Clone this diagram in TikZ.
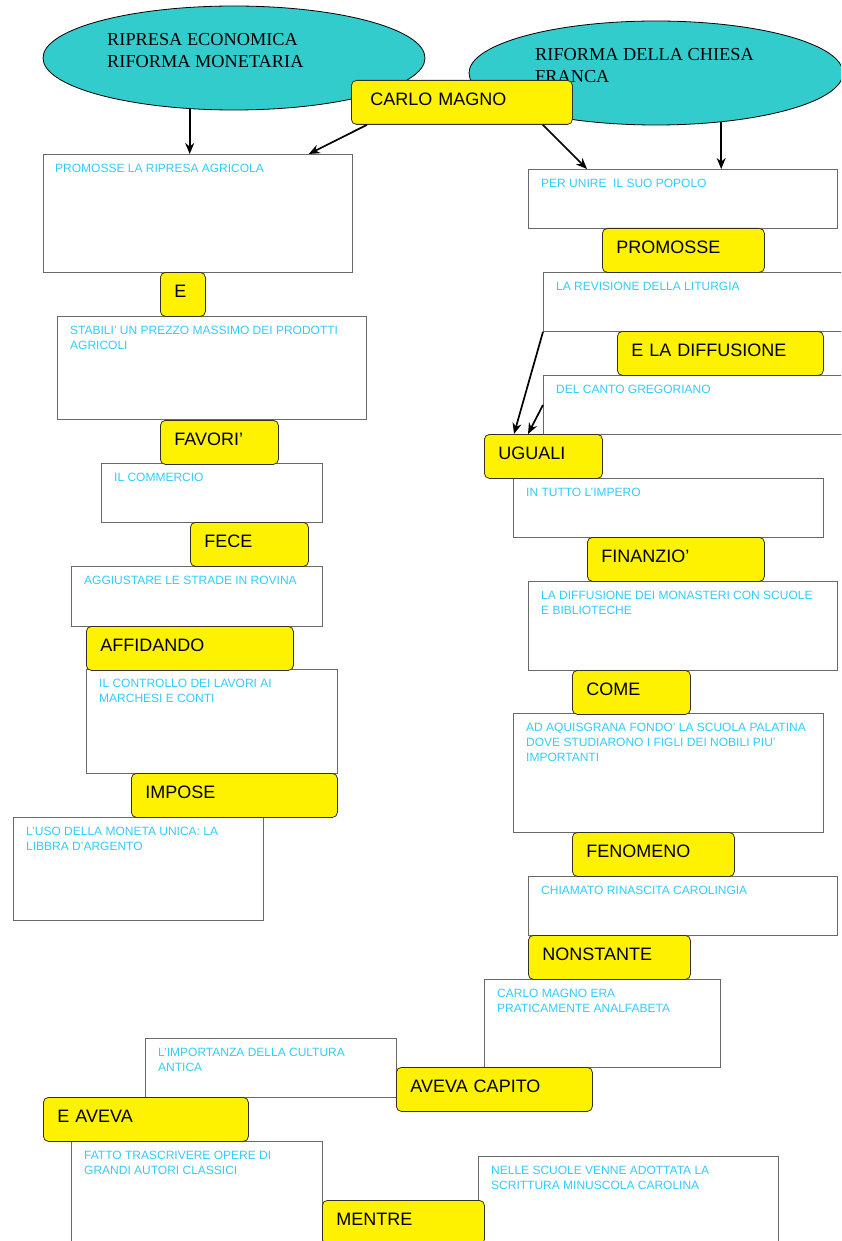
\documentclass[tikz,border=0pt]{standalone}
\usepackage{fontspec}
\setmainfont{Liberation Sans}
\newfontfamily\serifrm{Liberation Serif}
\usepackage{tikz}
\usetikzlibrary{positioning,shapes.geometric,arrows.meta}
\definecolor{ellcyan}{RGB}{51,204,204}
\definecolor{txtcyan}{RGB}{51,204,255}
\definecolor{boxgray}{RGB}{105,105,105}
\definecolor{ydark}{RGB}{50,50,30}
\begin{document}
\begin{tikzpicture}[x=1pt,y=-1pt,
    ell/.style={ellipse,draw=black,fill=ellcyan,line width=0.8pt,inner sep=0pt},
    etext/.style={anchor=north west,inner sep=0pt,align=left,font=\serifrm\fontsize{18.3}{22}\selectfont},
    wbox/.style={draw=boxgray,fill=white,line width=0.8pt,anchor=north west,inner sep=0pt},
    wtext/.style={inner sep=0pt,align=left,text=txtcyan,font=\fontsize{12}{15}\selectfont},
    ybox/.style={draw=ydark,fill=yellow,rounded corners=5pt,line width=0.8pt,anchor=north west,
      minimum height=44pt,inner xsep=14pt,inner ysep=0pt,align=left,
      text height=13pt,text depth=6pt,font=\fontsize{18}{20}\selectfont},
    arr/.style={-{Stealth[length=11pt,width=9pt]},line width=1.7pt}]
     \clip (0,0) rectangle (841,1241);
     % ellissi
     \node[ell,minimum width=382pt,minimum height=104pt] (ripresa) at (234,58) {};
     \node[ell,minimum width=374pt,minimum height=104pt] (chiesa) at (656,73) {};
     \node[etext] (ripresaT) at (107,33) {RIPRESA ECONOMICA\\RIFORMA MONETARIA};
     \node[etext] (chiesaT) at (535,48) {RIFORMA DELLA CHIESA\\FRANCA};
     % colonna sinistra
     \node[wbox,minimum width=309pt,minimum height=118pt] (agricola) at (43,154) {};
     \node[wtext,below right=10pt and 12pt of agricola.north west] (agricolaT) {PROMOSSE LA RIPRESA AGRICOLA};
     \node[wbox,minimum width=309pt,minimum height=103pt] (prezzo) at (57,316) {};
     \node[wtext,below right=10pt and 13pt of prezzo.north west] (prezzoT) {STABILI' UN PREZZO MASSIMO DEI PRODOTTI\\AGRICOLI};
     \node[wbox,minimum width=221pt,minimum height=59pt] (commercio) at (101,463) {};
     \node[wtext,below right=10pt and 13pt of commercio.north west] (commercioT) {IL COMMERCIO};
     \node[wbox,minimum width=251pt,minimum height=60pt] (strade) at (71,566) {};
     \node[wtext,below right=10pt and 13pt of strade.north west] (stradeT) {AGGIUSTARE LE STRADE IN ROVINA};
     \node[wbox,minimum width=251pt,minimum height=104pt] (controllo) at (86,669) {};
     \node[wtext,below right=10pt and 13pt of controllo.north west] (controlloT) {IL CONTROLLO DEI LAVORI AI\\MARCHESI E CONTI};
     \node[wbox,minimum width=250pt,minimum height=103pt] (moneta) at (13,817) {};
     \node[wtext,below right=10pt and 13pt of moneta.north west] (monetaT) {L'USO DELLA MONETA UNICA: LA\\LIBBRA D'ARGENTO};
     % colonna destra
     \node[wbox,minimum width=309pt,minimum height=59pt] (popolo) at (528,169) {};
     \node[wtext,below right=10pt and 13pt of popolo.north west] (popoloT) {PER UNIRE\ \ IL SUO POPOLO};
     \node[wbox,minimum width=320pt,minimum height=59pt] (liturgia) at (543,272) {};
     \node[wtext,below right=10pt and 13pt of liturgia.north west] (liturgiaT) {LA REVISIONE DELLA LITURGIA};
     \node[wbox,minimum width=320pt,minimum height=59pt] (canto) at (543,375) {};
     \node[wtext,below right=10pt and 13pt of canto.north west] (cantoT) {DEL CANTO GREGORIANO};
     \node[wbox,minimum width=310pt,minimum height=59pt] (impero) at (513,478) {};
     \node[wtext,below right=10pt and 13pt of impero.north west] (imperoT) {IN TUTTO L'IMPERO};
     \node[wbox,minimum width=309pt,minimum height=89pt] (monasteri) at (528,581) {};
     \node[wtext,below right=10pt and 13pt of monasteri.north west] (monasteriT) {LA DIFFUSIONE DEI MONASTERI CON SCUOLE\\E BIBLIOTECHE};
     \node[wbox,minimum width=310pt,minimum height=119pt] (palatina) at (513,713) {};
     \node[wtext,below right=10pt and 13pt of palatina.north west] (palatinaT) {AD AQUISGRANA FONDO' LA SCUOLA PALATINA\\DOVE STUDIARONO I FIGLI DEI NOBILI PIU'\\IMPORTANTI};
     \node[wbox,minimum width=309pt,minimum height=59pt] (rinascita) at (528,876) {};
     \node[wtext,below right=10pt and 13pt of rinascita.north west] (rinascitaT) {CHIAMATO RINASCITA CAROLINGIA};
     \node[wbox,minimum width=236pt,minimum height=88pt] (analfabeta) at (484,979) {};
     \node[wtext,below right=10pt and 13pt of analfabeta.north west] (analfabetaT) {CARLO MAGNO ERA\\PRATICAMENTE ANALFABETA};
     \node[wbox,minimum width=251pt,minimum height=59pt] (cultura) at (145,1038) {};
     \node[wtext,below right=10pt and 13pt of cultura.north west] (culturaT) {L'IMPORTANZA DELLA CULTURA\\ANTICA};
     \node[wbox,minimum width=251pt,minimum height=120pt] (opere) at (71,1141) {};
     \node[wtext,below right=10pt and 13pt of opere.north west] (opereT) {FATTO TRASCRIVERE OPERE DI\\GRANDI AUTORI CLASSICI};
     \node[wbox,minimum width=300pt,minimum height=105pt] (minuscola) at (478,1156) {};
     \node[wtext,below right=10pt and 13pt of minuscola.north west] (minuscolaT) {NELLE SCUOLE VENNE ADOTTATA LA\\SCRITTURA MINUSCOLA CAROLINA};
     % etichette gialle
     \node[ybox,inner xsep=19pt,text width=183pt] (carlo) at (351,80) {CARLO MAGNO};
     \node[ybox,text width=17pt] (e) at (160,272) {E};
     \node[ybox,text width=90pt] (favori) at (160,420) {FAVORI'};
     \node[ybox,text width=90pt] (fece) at (190,522) {FECE};
     \node[ybox,text width=179pt] (affidando) at (86,626) {AFFIDANDO};
     \node[ybox,text width=178pt] (impose) at (131,773) {IMPOSE};
     \node[ybox,text width=134pt] (promosse) at (602,228) {PROMOSSE};
     \node[ybox,text width=178pt] (diffusione) at (617,331) {E LA DIFFUSIONE};
     \node[ybox,text width=90pt] (uguali) at (484,434) {UGUALI};
     \node[ybox,text width=149pt] (finanzio) at (587,537) {FINANZIO'};
     \node[ybox,text width=90pt] (come) at (572,670) {COME};
     \node[ybox,text width=134pt] (fenomeno) at (572,832) {FENOMENO};
     \node[ybox,text width=134pt] (nonstante) at (528,935) {NONSTANTE};
     \node[ybox,text width=168pt] (capito) at (396,1067) {AVEVA CAPITO};
     \node[ybox,text width=177pt] (eaveva) at (43,1097) {E AVEVA};
     \node[ybox,text width=134pt] (mentre) at (322,1200) {MENTRE};
     % frecce
     \draw[arr] (ripresa.229) -- (ripresa.229 |- agricola.north);
     \draw[arr] ([xshift=16pt]carlo.south west) -- ([xshift=-44pt]agricola.north east);
     \draw[arr] ([xshift=-30pt]carlo.south east) -- ([xshift=59pt]popolo.north west);
     \draw[arr] (chiesa.-37) -- (chiesa.-37 |- popolo.north);
     \draw[arr] (liturgia.south west) -- ([xshift=30pt]uguali.north west);
     \draw[arr] (canto.west) -- ([xshift=44pt]uguali.north west);
\end{tikzpicture}
\end{document}
